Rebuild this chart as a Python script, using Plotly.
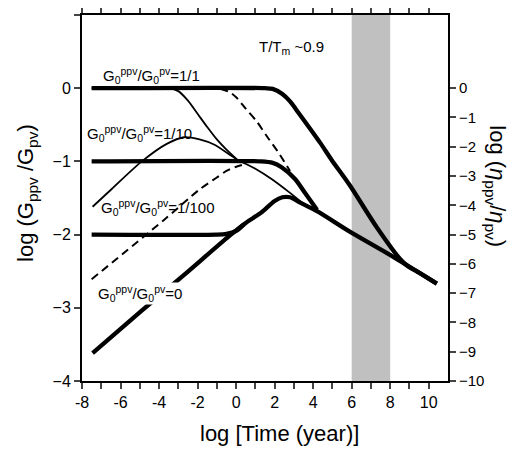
import plotly.graph_objects as go

# ---- data (log time in years, log G ratio) ----
thick_11_x = [-7.5, 1.5, 1.9, 2.4, 2.8, 3.14, 4.35, 4.96, 5.91, 7.3, 8.5, 8.9, 9.5, 10.42]
thick_11_y = [0.0, 0.0, -0.01, -0.08, -0.18, -0.30, -0.74, -0.98, -1.33, -1.90, -2.33, -2.43, -2.52, -2.67]

thick_110_x = [-7.5, 1.3, 1.9, 2.36, 3.06, 3.6, 4.2]
thick_110_y = [-1.0, -1.0, -1.02, -1.08, -1.24, -1.44, -1.66]

thick_1100_x = [-7.5, -1.0, -0.5, 0.0, 0.4]
thick_1100_y = [-2.0, -2.0, -1.99, -1.95, -1.86]

thick_0_x = [-7.45, -4.9, -2.7, -0.32, 0.5, 1.3, 2.0, 2.4, 2.8, 3.3, 4.2, 5.9, 8.2, 10.42]
thick_0_y = [-3.62, -3.04, -2.55, -2.01, -1.84, -1.70, -1.54, -1.49, -1.49, -1.56, -1.68, -1.96, -2.31, -2.67]

thin_11_x = [-7.5, -3.5, -3.0, -2.5, -2.0, -1.5, -1.0, -0.5, 0.03]
thin_11_y = [0.0, 0.0, -0.04, -0.17, -0.35, -0.53, -0.70, -0.84, -0.97]

thin_110_x = [-7.45, -6.47, -4.85, -3.6, -2.7, -1.9, -1.15, 0.03, 1.0, 1.84, 2.8, 3.5, 3.9]
thin_110_y = [-1.62, -1.38, -0.99, -0.76, -0.67, -0.70, -0.77, -0.97, -1.10, -1.24, -1.43, -1.58, -1.64]

dash_11_x = [-1.5, -0.8, -0.3, 0.03, 0.5, 1.06, 1.58, 2.2, 2.8]
dash_11_y = [0.0, -0.01, -0.06, -0.13, -0.28, -0.45, -0.65, -0.88, -1.13]

dash_110_x = [-7.5, -3.79, -1.88, -1.0, -0.5, -0.06, 0.3]
dash_110_y = [-2.61, -1.81, -1.38, -1.22, -1.13, -1.08, -1.05]

x_ticks = [-8, -7, -6, -5, -4, -3, -2, -1, 0, 1, 2, 3, 4, 5, 6, 7, 8, 9, 10]
x_ticktext = ["-8", "", "-6", "", "-4", "", "-2", "", "0", "", "2", "", "4", "", "6", "", "8", "", "10"]
y_ticks = [-4, -3, -2, -1, 0, 1]
y2_ticks = [-10, -9, -8, -7, -6, -5, -4, -3, -2, -1, 0]

band_x = [6, 8]

FONT = "Arial, Liberation Sans, Helvetica, sans-serif"

fig = go.Figure()

def add(x, y, width, dash="solid"):
    fig.add_trace(go.Scatter(x=x, y=y, mode="lines",
                             line=dict(color="black", width=width, dash=dash, shape="spline", smoothing=0.8),
                             showlegend=False, hoverinfo="skip"))

add(dash_11_x, dash_11_y, 2, "8px,5px")
add(dash_110_x, dash_110_y, 2, "8px,5px")
add(thin_11_x, thin_11_y, 1.8)
add(thin_110_x, thin_110_y, 1.8)
add(thick_0_x, thick_0_y, 4.3)
add(thick_1100_x, thick_1100_y, 4.3)
add(thick_110_x, thick_110_y, 4.3)
add(thick_11_x, thick_11_y, 4.3)

# invisible anchor so the right-hand axis is drawn
fig.add_trace(go.Scatter(x=[band_x[0]], y=[y2_ticks[0]], yaxis="y2", mode="markers",
                         marker=dict(opacity=0), showlegend=False, hoverinfo="skip"))

fig.add_shape(type="rect", x0=band_x[0], x1=band_x[1], y0=0, y1=1, xref="x", yref="paper",
              fillcolor="#c0c0c0", line=dict(width=0), layer="below")

lab_font = dict(family=FONT, size=15, color="black")
labels = [
    (-6.97, 0.17, "G<sub>0</sub><sup>ppv</sup>/G<sub>0</sub><sup>pv</sup>=1/1", None),
    (-7.8, -0.62, "G<sub>0</sub><sup>ppv</sup>/G<sub>0</sub><sup>pv</sup>=1/10", None),
    (-7.08, -1.63, "G<sub>0</sub><sup>ppv</sup>/G<sub>0</sub><sup>pv</sup>=1/100", None),
    (-7.23, -2.80, "G<sub>0</sub><sup>ppv</sup>/G<sub>0</sub><sup>pv</sup>=0", "white"),
    (1.15, 0.55, "T/T<sub>m</sub> ~0.9", None),
]
for x, y, t, bg in labels:
    fig.add_annotation(x=x, y=y, xref="x", yref="y", text=t, showarrow=False,
                       xanchor="left", yanchor="middle", font=lab_font,
                       bgcolor=bg if bg else "rgba(0,0,0,0)", borderpad=0)

title_font = dict(family=FONT, size=22, color="black")
fig.add_annotation(xref="paper", yref="paper", x=0.539, y=-0.143, text="log [Time (year)]",
                   showarrow=False, font=title_font, xanchor="center", yanchor="middle")
fig.add_annotation(xref="paper", yref="paper", x=-0.15, y=0.514, text="log (G<sub>ppv</sub> /G<sub>pv</sub>)",
                   showarrow=False, font=title_font, textangle=-90, xanchor="center", yanchor="middle")
fig.add_annotation(xref="paper", yref="paper", x=1.13, y=0.533, text="log (<i>η</i><sub>ppv</sub>/<i>η</i><sub>pv</sub>)",
                   showarrow=False, font=title_font, textangle=90, xanchor="center", yanchor="middle")

# the page body has an 8px margin, so the figure is 8px smaller and the
# plot-area margins are shifted accordingly
fig.update_layout(
    width=512, height=441,
    margin=dict(l=74, r=72, t=7, b=68, autoexpand=False),
    paper_bgcolor="white", plot_bgcolor="white",
    font=dict(family=FONT, color="black"),
    xaxis=dict(range=[-8, 11], tickvals=x_ticks, ticktext=x_ticktext, ticks="outside", ticklen=6,
               tickwidth=1.5, showline=True, linewidth=2, linecolor="black", mirror="ticks",
               showgrid=False, zeroline=False, tickfont=dict(size=16), automargin=False),
    yaxis=dict(range=[-4, 1], tickvals=y_ticks, ticks="outside", ticklen=6, tickwidth=1.5,
               showline=True, linewidth=2, linecolor="black", showgrid=False, zeroline=False,
               tickfont=dict(size=16), automargin=False),
    yaxis2=dict(range=[-10, 2.5], tickvals=y2_ticks, ticks="outside", ticklen=6, tickwidth=1.5,
                showline=True, linewidth=2, linecolor="black", showgrid=False, zeroline=False,
                overlaying="y", side="right", tickfont=dict(size=15), automargin=False),
)

fig.write_html("out.html")
